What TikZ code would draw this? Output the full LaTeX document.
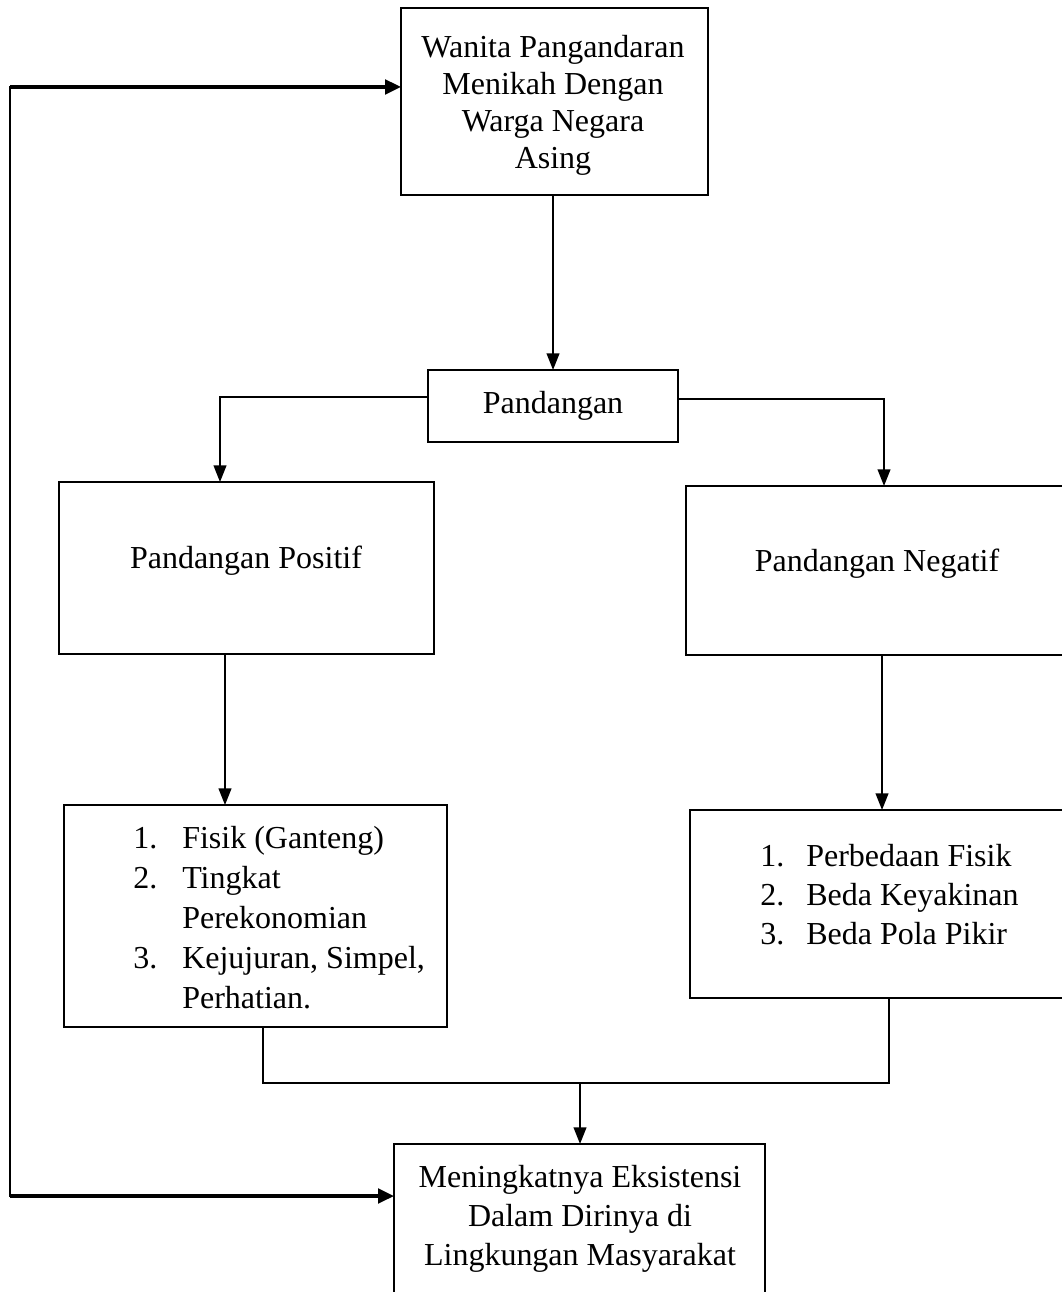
\documentclass[tikz,border=0pt]{standalone}
\usepackage{fontspec}
\setmainfont{Liberation Serif}
\usetikzlibrary{arrows.meta}
\begin{document}
\begin{tikzpicture}[x=0.75pt,y=-0.75pt,
 box/.style={draw, line width=2.2pt, inner sep=0pt, outer sep=0pt},
 conn/.style={line width=1.5pt, -{Triangle[length=12.5pt,width=9.5pt]}},
 plainline/.style={line width=1.5pt},
 loopline/.style={line width=2.4pt, -{Triangle[length=12pt,width=11pt]}},
 txt/.style={font=\fontsize{24}{27.75}\selectfont, align=center, inner sep=0pt},
 lst/.style={font=\fontsize{24}{30}\selectfont, align=left, inner sep=0pt, anchor=west}]
\clip (0,0) rectangle (1062,1292);
\fill[white] (0,0) rectangle (1062,1292);
% boxes
\node[box, minimum width=230.25pt, minimum height=140.25pt] (top) at (554.5,101.5) {};
\node[box, minimum width=187.5pt, minimum height=54pt] (pand) at (553,406) {};
\node[box, minimum width=281.25pt, minimum height=129pt] (pos) at (246.5,568) {};
\node[box, minimum width=286.5pt, minimum height=126.75pt] (neg) at (877,570.5) {};
\node[box, minimum width=287.25pt, minimum height=166.5pt] (listl) at (255.5,916) {};
\node[box, minimum width=285pt, minimum height=141pt] (listr) at (880,904) {};
\node[box, minimum width=278.25pt, minimum height=124.5pt] (bot) at (579.5,1227) {};
% texts
\node[txt] (ttop) at (553,105) {Wanita Pangandaran\\Menikah Dengan\\Warga Negara\\Asing};
\node[txt] (tpand) at (553,406) {Pandangan};
\node[txt] (tpos) at (246,561) {Pandangan Positif};
\node[txt] (tneg) at (877,564) {Pandangan Negatif};
\node[lst] (tlistl) at (133,918) {\makebox[36.75pt][l]{1.}Fisik (Ganteng)\\\makebox[36.75pt][l]{2.}Tingkat\\\makebox[36.75pt][l]{}Perekonomian\\\makebox[36.75pt][l]{3.}Kejujuran, Simpel,\\\makebox[36.75pt][l]{}Perhatian.};
\node[lst, font=\fontsize{24}{29.25}\selectfont] (tlistr) at (760,895) {\makebox[34.5pt][l]{1.}Perbedaan Fisik\\\makebox[34.5pt][l]{2.}Beda Keyakinan\\\makebox[34.5pt][l]{3.}Beda Pola Pikir};
\node[txt, font=\fontsize{24}{29.25}\selectfont] (tbot) at (580,1219) {Meningkatnya Eksistensi\\Dalam Dirinya di\\Lingkungan Masyarakat};
% helper coordinates
\coordinate (cx1) at (553,0);
\coordinate (cl) at (220,0);
\coordinate (cr) at (884,0);
\coordinate (cpl) at (225,0);
\coordinate (cnr) at (882,0);
\coordinate (cjl) at (263,0);
\coordinate (cjr) at (889,0);
\coordinate (cjy) at (0,1083);
\coordinate (cdown) at (580,0);
\coordinate (cloop) at (10,640);
\coordinate (ctopin) at ([yshift=10.9pt]top.west);
\coordinate (cbotin) at ([yshift=23.25pt]bot.west);
% connectors
\draw[conn] (cx1 |- top.south) -- (cx1 |- pand.north);
\draw[conn] ([yshift=6.75pt]pand.west) -| (cl |- pos.north);
\draw[conn] ([yshift=5.5pt]pand.east) -| (cr |- neg.north);
\draw[conn] (cpl |- pos.south) -- (cpl |- listl.north);
\draw[conn] (cnr |- neg.south) -- (cnr |- listr.north);
\draw[plainline] (cjl |- listl.south) |- (cjy -| cdown) -| (cjr |- listr.south);
\draw[conn] (cjy -| cdown) -- (cdown |- bot.north);
\draw[plainline, line cap=rect] (cloop |- ctopin) -- (cloop |- cbotin);
\draw[loopline] (cloop |- ctopin) -- (ctopin);
\draw[loopline] (cloop |- cbotin) -- (cbotin);
\end{tikzpicture}
\end{document}
